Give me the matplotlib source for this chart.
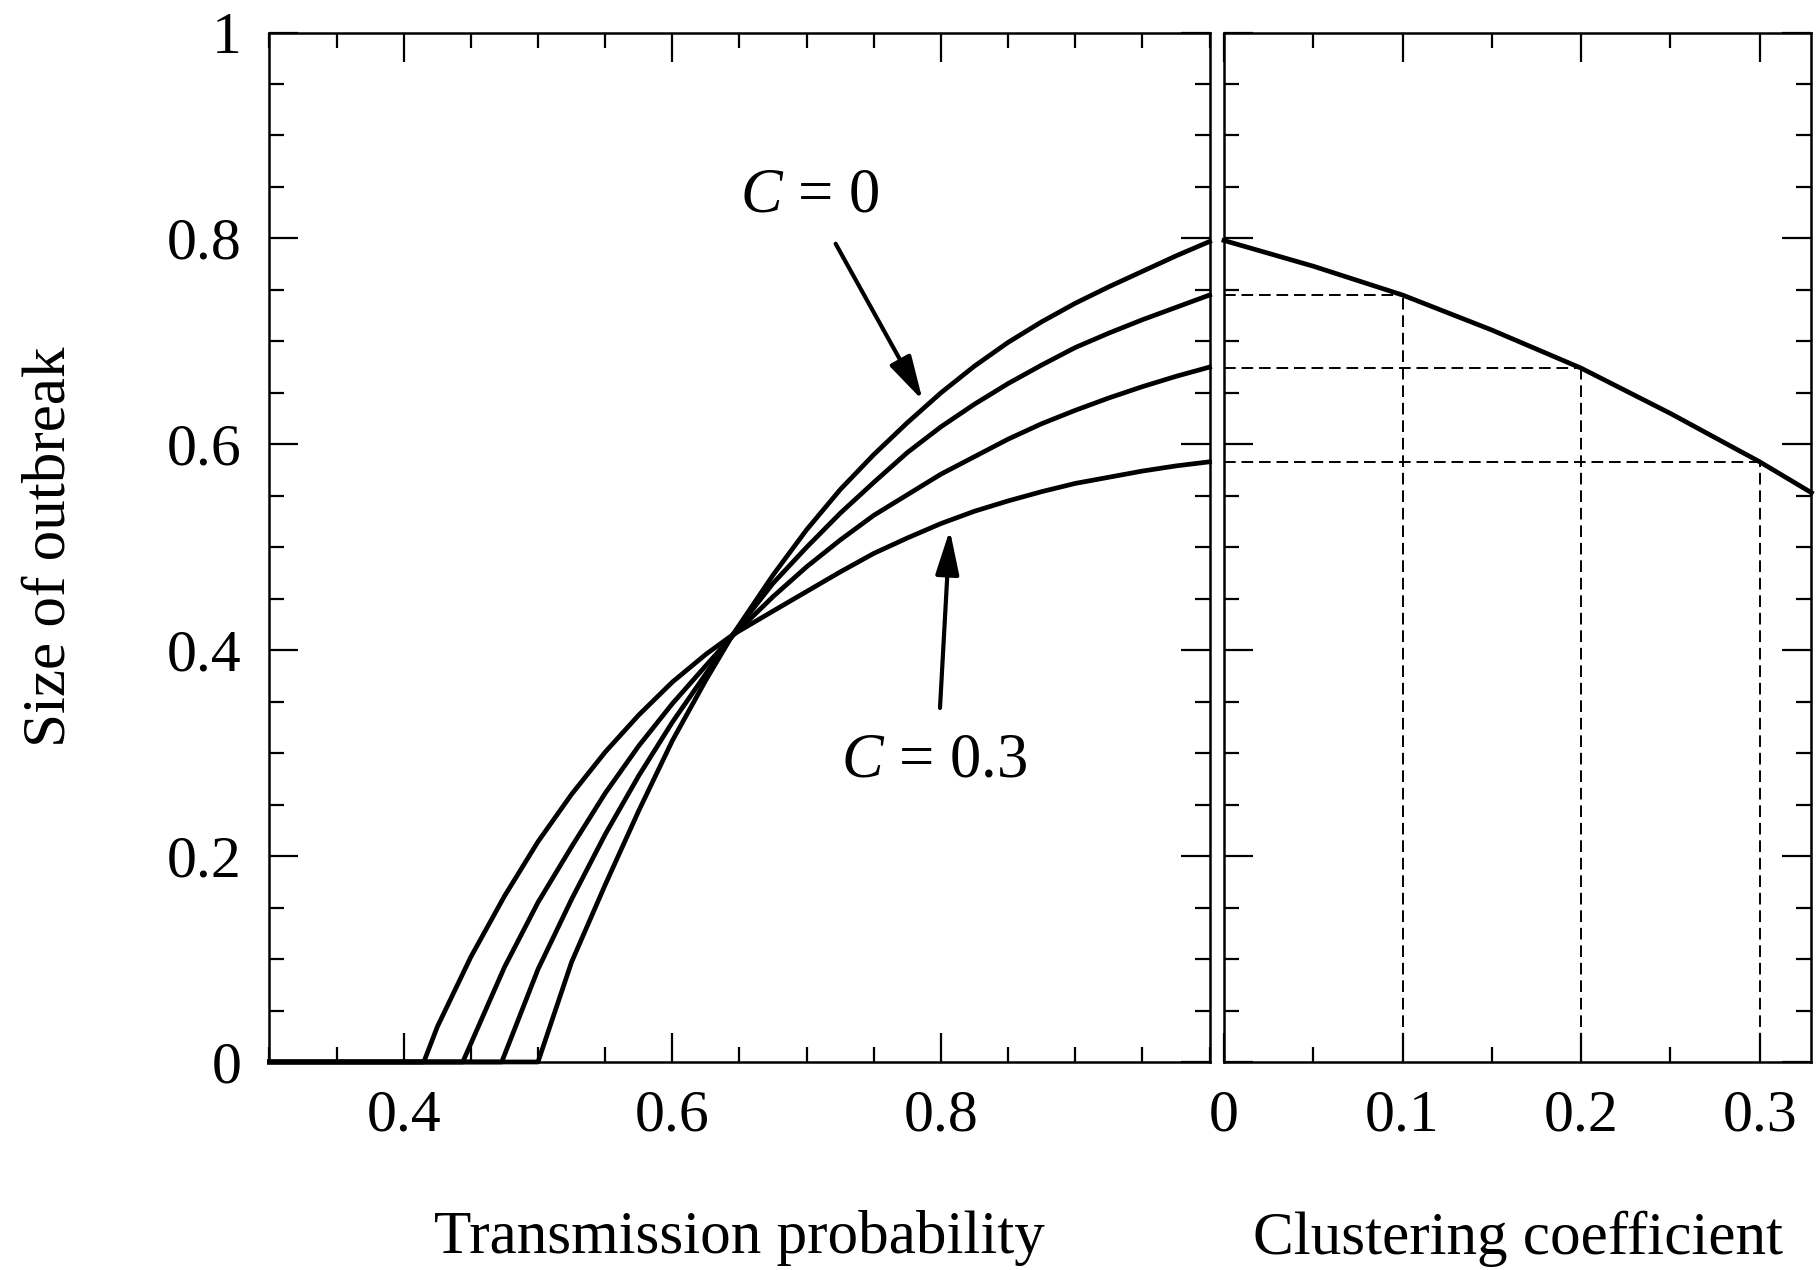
import matplotlib
matplotlib.use('Agg')
import matplotlib.pyplot as plt
from matplotlib.ticker import MultipleLocator, FixedLocator

# fonts : Times-like serif, italic C in the labels
plt.rcParams['font.family'] = ['Liberation Serif', 'DejaVu Serif']
plt.rcParams['mathtext.fontset'] = 'custom'
plt.rcParams['mathtext.rm'] = 'Liberation Serif'
plt.rcParams['mathtext.it'] = 'Liberation Serif:italic'

# size of outbreak vs transmission probability, one curve per clustering coefficient
c00_x = [0.3, 0.50, 0.525, 0.55, 0.575, 0.60, 0.625, 0.645, 0.675, 0.70, 0.725, 0.75,
         0.775, 0.80, 0.825, 0.85, 0.875, 0.90, 0.925, 0.95, 0.975, 1.0]
c00_y = [0, 0, 0.097, 0.172, 0.244, 0.312, 0.371, 0.415, 0.473, 0.517, 0.556, 0.590,
         0.621, 0.650, 0.676, 0.699, 0.719, 0.737, 0.753, 0.768, 0.783, 0.797]

c01_x = [0.3, 0.473, 0.50, 0.525, 0.55, 0.575, 0.60, 0.625, 0.645, 0.675, 0.70, 0.725,
         0.75, 0.775, 0.80, 0.825, 0.85, 0.875, 0.90, 0.925, 0.95, 0.975, 1.0]
c01_y = [0, 0, 0.090, 0.158, 0.221, 0.278, 0.330, 0.377, 0.415, 0.465, 0.500, 0.533,
         0.563, 0.592, 0.617, 0.639, 0.659, 0.677, 0.694, 0.708, 0.721, 0.733, 0.745]

c02_x = [0.3, 0.444, 0.475, 0.50, 0.525, 0.55, 0.575, 0.60, 0.625, 0.645, 0.675, 0.70,
         0.725, 0.75, 0.775, 0.80, 0.825, 0.85, 0.875, 0.90, 0.925, 0.95, 0.975, 1.0]
c02_y = [0, 0, 0.092, 0.155, 0.209, 0.261, 0.307, 0.348, 0.385, 0.414, 0.452, 0.481,
         0.507, 0.531, 0.551, 0.571, 0.588, 0.605, 0.620, 0.633, 0.645, 0.656, 0.666, 0.675]

c03_x = [0.3, 0.415, 0.425, 0.45, 0.475, 0.50, 0.525, 0.55, 0.575, 0.60, 0.625, 0.645,
         0.675, 0.70, 0.725, 0.75, 0.775, 0.80, 0.825, 0.85, 0.875, 0.90, 0.925, 0.95,
         0.975, 1.0]
c03_y = [0, 0, 0.034, 0.102, 0.161, 0.214, 0.260, 0.301, 0.337, 0.369, 0.396, 0.415,
         0.438, 0.457, 0.476, 0.494, 0.509, 0.523, 0.535, 0.545, 0.554, 0.562, 0.568, 0.574,
         0.579, 0.583]

# size of outbreak vs clustering coefficient at transmission probability 1
clust_c = [0, 0.05, 0.1, 0.15, 0.2, 0.25, 0.3, 0.329]
clust_s = [0.798, 0.773, 0.745, 0.711, 0.674, 0.630, 0.583, 0.553]

# dashed guides
mark_c = [0.1, 0.2, 0.3]
mark_s = [0.745, 0.674, 0.583]

y_ticks = [0, 0.2, 0.4, 0.6, 0.8, 1.0]
y_tick_labels = ['0', '0.2', '0.4', '0.6', '0.8', '1']
left_x_ticks = [0.4, 0.6, 0.8]
right_x_ticks = [0, 0.1, 0.2, 0.3]
right_x_labels = ['0', '0.1', '0.2', '0.3']

FS = 43
LW = 3.4


def _style(ax) :
    for s in ax.spines.values() :
        s.set_linewidth(1.8)
    ax.tick_params(which='both', direction='in', top=True, right=True, width=1.6,
                   labelsize=FS, pad=20)
    ax.tick_params(which='major', length=21)
    ax.tick_params(which='minor', length=11)
    ax.xaxis.set_minor_locator(MultipleLocator(0.05))
    ax.yaxis.set_minor_locator(MultipleLocator(0.05))
    ax.set_ylim(0, 1)


fig = plt.figure(figsize=(18.2, 12.7), dpi=100)
ax1 = fig.add_axes([0.148, 0.1638, 0.5166, 0.8106])
ax2 = fig.add_axes([0.6725, 0.1638, 0.3228, 0.8106])

# left panel
for x, y in [(c00_x, c00_y), (c01_x, c01_y), (c02_x, c02_y), (c03_x, c03_y)] :
    ax1.plot(x, y, color='k', lw=LW, solid_joinstyle='round', clip_on=False)
_style(ax1)
ax1.set_xlim(0.3, 1.0)
ax1.xaxis.set_major_locator(FixedLocator(left_x_ticks))
ax1.set_xticklabels(['0.4', '0.6', '0.8'])
ax1.set_yticks(y_ticks)
ax1.set_yticklabels(y_tick_labels)
ax1.set_xlabel('Transmission probability', fontsize=FS + 1, labelpad=48)
ax1.set_ylabel('Size of outbreak', fontsize=FS + 1, labelpad=64)

arrow = dict(arrowstyle='-|>,head_length=1.35,head_width=0.36', lw=3, color='k',
             shrinkA=0, shrinkB=0, mutation_scale=20)
ax1.annotate('', xy=(0.7864, 0.6426), xytext=(0.7216, 0.7948), arrowprops=arrow)
ax1.annotate('', xy=(0.8066, 0.5168), xytext=(0.7993, 0.3439), arrowprops=arrow)
ax1.text(0.7024, 0.841, '$C$ = 0', fontsize=FS + 2, ha='center', va='center')
ax1.text(0.795, 0.292, '$C$ = 0.3', fontsize=FS + 2, ha='center', va='center')

# right panel
for c, s in zip(mark_c, mark_s) :
    ax2.plot([0, c], [s, s], color='k', lw=1.4, ls=(0, (6, 3)))
    ax2.plot([c, c], [0, s], color='k', lw=1.4, ls=(0, (6, 3)))
ax2.plot(clust_c, clust_s, color='k', lw=LW, solid_joinstyle='round', clip_on=False)
_style(ax2)
ax2.set_xlim(0, 0.329)
ax2.xaxis.set_major_locator(FixedLocator(right_x_ticks))
ax2.set_xticklabels(right_x_labels)
ax2.set_yticks(y_ticks)
ax2.set_yticklabels([])
ax2.set_xlabel('Clustering coefficient', fontsize=FS + 1, labelpad=48)

fig.savefig('out.png', dpi=100)
